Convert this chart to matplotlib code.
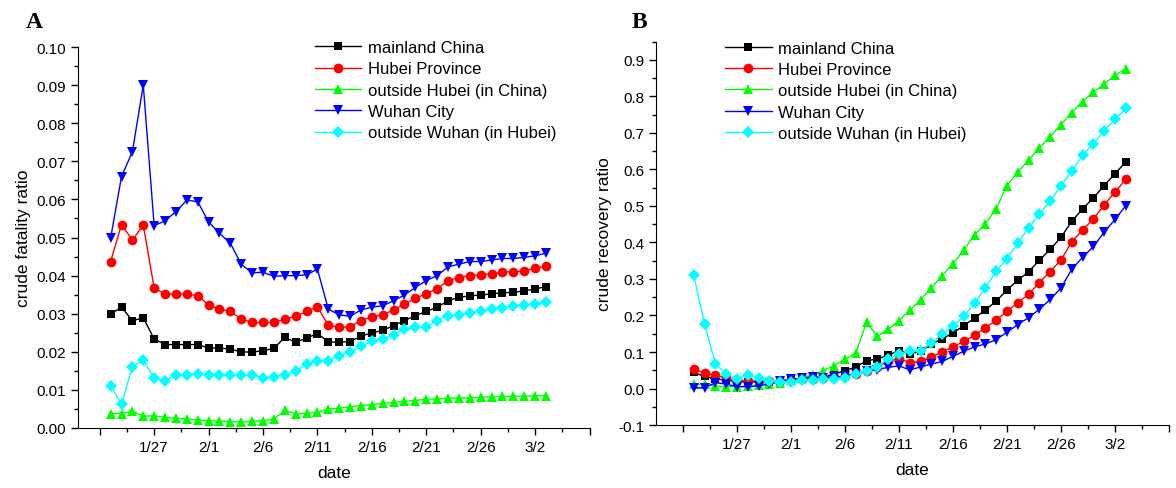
import matplotlib
matplotlib.use("Agg")
import matplotlib.pyplot as plt
import numpy as np
import pandas as pd

plt.rcParams['font.family'] = ['Liberation Sans', 'DejaVu Sans']

# daily values, 1/23 .. 3/3 (2020)
dates = pd.date_range('2020-01-23', '2020-03-03', freq='D')

series_names = ['mainland China', 'Hubei Province', 'outside Hubei (in China)',
                'Wuhan City', 'outside Wuhan (in Hubei)']

fatality_mainland = [0.0299, 0.0317, 0.0282, 0.0289, 0.0234, 0.0219, 0.0219, 0.0219, 0.0219, 0.0210,
                     0.0210, 0.0207, 0.0200, 0.0199, 0.0203, 0.0209, 0.0238, 0.0225, 0.0236, 0.0248,
                     0.0226, 0.0225, 0.0227, 0.0241, 0.0250, 0.0256, 0.0269, 0.0282, 0.0295, 0.0306,
                     0.0317, 0.0334, 0.0343, 0.0347, 0.0349, 0.0352, 0.0355, 0.0356, 0.0360, 0.0365,
                     0.0371]
fatality_hubei = [0.0437, 0.0534, 0.0493, 0.0533, 0.0367, 0.0352, 0.0352, 0.0352, 0.0347, 0.0323,
                  0.0312, 0.0306, 0.0286, 0.0277, 0.0277, 0.0277, 0.0286, 0.0293, 0.0306, 0.0318,
                  0.0270, 0.0264, 0.0266, 0.0282, 0.0292, 0.0297, 0.0310, 0.0325, 0.0340, 0.0353,
                  0.0365, 0.0387, 0.0395, 0.0400, 0.0402, 0.0404, 0.0409, 0.0410, 0.0413, 0.0419,
                  0.0424]
fatality_out_hubei = [0.0038, 0.0038, 0.0044, 0.0031, 0.0032, 0.0028, 0.0025, 0.0024, 0.0021, 0.0019,
                      0.0018, 0.0017, 0.0015, 0.0018, 0.0019, 0.0024, 0.0046, 0.0037, 0.0039, 0.0041,
                      0.0050, 0.0052, 0.0056, 0.0059, 0.0061, 0.0065, 0.0067, 0.0070, 0.0072, 0.0076,
                      0.0076, 0.0078, 0.0079, 0.0079, 0.0081, 0.0082, 0.0083, 0.0083, 0.0084, 0.0084,
                      0.0085]
fatality_wuhan = [0.0498, 0.0660, 0.0725, 0.0900, 0.0531, 0.0544, 0.0568, 0.0598, 0.0594, 0.0541,
                  0.0511, 0.0485, 0.0430, 0.0407, 0.0409, 0.0398, 0.0400, 0.0400, 0.0402, 0.0417,
                  0.0312, 0.0297, 0.0293, 0.0310, 0.0317, 0.0321, 0.0334, 0.0349, 0.0369, 0.0387,
                  0.0400, 0.0423, 0.0430, 0.0437, 0.0437, 0.0441, 0.0445, 0.0445, 0.0448, 0.0452,
                  0.0459]
fatality_out_wuhan = [0.0111, 0.0063, 0.0161, 0.0178, 0.0131, 0.0124, 0.0140, 0.0140, 0.0143, 0.0140,
                      0.0140, 0.0140, 0.0140, 0.0140, 0.0131, 0.0135, 0.0140, 0.0149, 0.0168, 0.0177,
                      0.0177, 0.0190, 0.0200, 0.0214, 0.0228, 0.0234, 0.0244, 0.0260, 0.0264, 0.0266,
                      0.0282, 0.0295, 0.0297, 0.0301, 0.0308, 0.0312, 0.0314, 0.0321, 0.0324, 0.0325,
                      0.0330]

recovery_mainland = [0.044, 0.033, 0.027, 0.022, 0.020, 0.018, 0.018, 0.019, 0.020, 0.022,
                     0.025, 0.028, 0.031, 0.040, 0.049, 0.059, 0.076, 0.081, 0.091, 0.104,
                     0.095, 0.102, 0.122, 0.136, 0.152, 0.172, 0.193, 0.215, 0.239, 0.270,
                     0.296, 0.320, 0.351, 0.381, 0.414, 0.458, 0.492, 0.522, 0.556, 0.588,
                     0.621]
recovery_hubei = [0.054, 0.042, 0.037, 0.028, 0.022, 0.021, 0.020, 0.020, 0.021, 0.023,
                  0.025, 0.027, 0.029, 0.031, 0.034, 0.040, 0.048, 0.060, 0.075, 0.082,
                  0.071, 0.074, 0.086, 0.100, 0.114, 0.129, 0.146, 0.166, 0.187, 0.212,
                  0.235, 0.258, 0.290, 0.320, 0.352, 0.402, 0.434, 0.464, 0.503, 0.538,
                  0.573]
recovery_out_hubei = [0.012, 0.011, 0.007, 0.005, 0.005, 0.007, 0.010, 0.013, 0.016, 0.022,
                      0.030, 0.037, 0.049, 0.063, 0.080, 0.097, 0.182, 0.143, 0.162, 0.186,
                      0.214, 0.243, 0.276, 0.309, 0.342, 0.379, 0.421, 0.451, 0.492, 0.556,
                      0.593, 0.625, 0.659, 0.690, 0.723, 0.756, 0.786, 0.812, 0.834, 0.858,
                      0.876]
recovery_wuhan = [0.002, 0.002, 0.016, 0.012, 0.005, 0.005, 0.007, 0.013, 0.020, 0.025,
                  0.028, 0.032, 0.030, 0.032, 0.033, 0.040, 0.047, 0.052, 0.058, 0.062,
                  0.051, 0.059, 0.067, 0.074, 0.088, 0.102, 0.114, 0.122, 0.134, 0.154,
                  0.175, 0.194, 0.217, 0.244, 0.275, 0.327, 0.359, 0.389, 0.428, 0.463,
                  0.501]
recovery_out_wuhan = [0.310, 0.176, 0.068, 0.040, 0.026, 0.037, 0.028, 0.021, 0.019, 0.019,
                      0.022, 0.022, 0.026, 0.026, 0.030, 0.040, 0.049, 0.060, 0.081, 0.094,
                      0.104, 0.102, 0.125, 0.148, 0.172, 0.198, 0.233, 0.276, 0.321, 0.356,
                      0.398, 0.440, 0.478, 0.513, 0.556, 0.595, 0.639, 0.671, 0.706, 0.737,
                      0.767]

tick_dates = pd.date_range('2020-01-22', periods=10, freq='5D')
tick_labels = ['', '1/27', '2/1', '2/6', '2/11', '2/16', '2/21', '2/26', '3/2', '']

colors = ['#000000', '#ff0000', '#00ff00', '#0000ff', '#00ffff']
markers = ['s', 'o', '^', 'v', 'D']
msizes = [6, 7, 7.5, 7.5, 6]


def draw_panel(ax, series, ylabel, ylim, ymajor, xleft, legend_pos):
    for vals, name, c, m, ms in zip(series, series_names, colors, markers, msizes):
        ax.plot(dates, vals, color=c, lw=1, marker=m, markersize=ms,
                markeredgewidth=0, label=name)
    ax.set_xlim(pd.Timestamp(xleft), pd.Timestamp('2020-03-07'))
    ax.set_ylim(*ylim)
    ax.set_xticks(tick_dates)
    ax.set_xticklabels(tick_labels)
    ax.set_xticks(tick_dates[:-1] + pd.Timedelta(hours=60), minor=True)
    ax.set_yticks(np.arange(ylim[0], ylim[1] + 1e-9, ymajor))
    ax.set_yticks(np.arange(ylim[0], ylim[1] + 1e-9, ymajor / 2), minor=True)
    ax.spines['top'].set_visible(False)
    ax.spines['right'].set_visible(False)
    ax.tick_params(which='major', length=5, width=1, labelsize=11)
    ax.tick_params(which='minor', length=3, width=1)
    ax.set_xlabel('date', fontsize=12.5, labelpad=8)
    ax.set_ylabel(ylabel, fontsize=12.5)
    ax.legend(loc='upper left', bbox_to_anchor=legend_pos, frameon=False,
              fontsize=12, handlelength=2.8, handletextpad=0.4, labelspacing=0.38,
              borderpad=0, borderaxespad=0)


fig = plt.figure(figsize=(11.76, 4.89), dpi=100)
ax1 = fig.add_axes([0.0663, 0.1227, 0.4350, 0.7791])
ax2 = fig.add_axes([0.5578, 0.1288, 0.4362, 0.7839])

draw_panel(ax1, [fatality_mainland, fatality_hubei, fatality_out_hubei, fatality_wuhan, fatality_out_wuhan],
           'crude fatality ratio', (0.0, 0.1), 0.01, '2020-01-20', (0.463, 1.018))
ax1.yaxis.set_major_formatter(plt.FormatStrFormatter('%.2f'))

draw_panel(ax2, [recovery_mainland, recovery_hubei, recovery_out_hubei, recovery_wuhan, recovery_out_wuhan],
           'crude recovery ratio', (-0.1, 0.95), 0.1, '2020-01-19 12:00', (0.1345, 1.003))
ax2.set_yticks(np.arange(-0.1, 0.91, 0.1))
ax2.set_yticks(np.arange(-0.1, 0.96, 0.05), minor=True)
ax2.yaxis.set_major_formatter(plt.FormatStrFormatter('%.1f'))

fig.text(0.022, 0.955, 'A', fontsize=17, fontweight='bold', family='Liberation Serif', va='center')
fig.text(0.537, 0.955, 'B', fontsize=17, fontweight='bold', family='Liberation Serif', va='center')

fig.savefig('out.png', dpi=100)
